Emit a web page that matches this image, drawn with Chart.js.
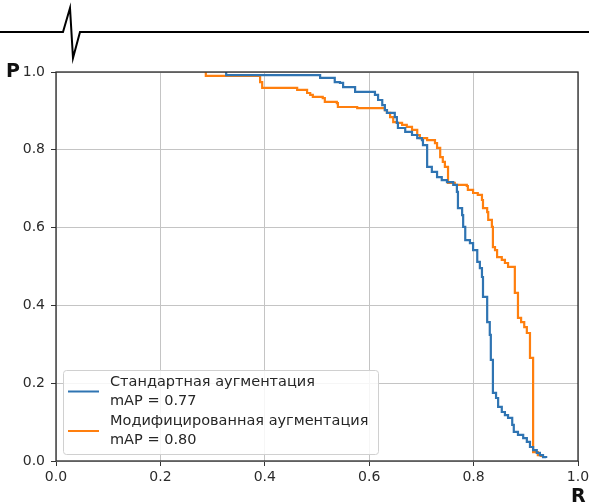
<!DOCTYPE html>
<html>
<head>
<meta charset="utf-8">
<script src="https://cdn.jsdelivr.net/npm/chart.js@4/dist/chart.umd.min.js"></script>
<style>
  html, body { margin: 0; padding: 0; background: #ffffff; }
  #wrap { position: relative; width: 589px; height: 504px; }
  canvas { display: block; }
</style>
</head>
<body>
<div id="wrap"><canvas id="c" width="589" height="504"></canvas></div>
<script>
// ---- data ----
const seriesNames = ["Стандартная аугментация", "Модифицированная аугментация"];
const mapValues = ["0.77", "0.80"];
const axisTicks = [0.0, 0.2, 0.4, 0.6, 0.8, 1.0];

const blueRecall = [0.326,0.326,0.502,0.506,0.531,0.534,0.544,0.550,0.567,0.573,0.605,0.611,0.617,0.625,0.630,0.634,0.644,0.649,0.653,0.653,0.655,0.669,0.682,0.692,0.701,0.703,0.711,0.711,0.720,0.730,0.739,0.749,0.761,0.768,0.770,0.778,0.780,0.784,0.793,0.799,0.807,0.812,0.816,0.818,0.826,0.826,0.831,0.833,0.837,0.837,0.843,0.847,0.854,0.860,0.866,0.874,0.877,0.885,0.895,0.902,0.908,0.914,0.921,0.927,0.933,0.939];
const bluePrecision = [1.0,0.992,0.992,0.985,0.985,0.974,0.972,0.961,0.961,0.949,0.949,0.941,0.928,0.915,0.902,0.895,0.895,0.884,0.884,0.869,0.856,0.846,0.838,0.830,0.825,0.812,0.799,0.756,0.743,0.730,0.722,0.717,0.710,0.692,0.650,0.632,0.602,0.568,0.560,0.542,0.512,0.496,0.473,0.422,0.406,0.357,0.324,0.260,0.254,0.175,0.162,0.139,0.126,0.118,0.111,0.093,0.075,0.067,0.059,0.049,0.036,0.028,0.021,0.015,0.010,0.008];

const orangeRecall = [0.287,0.287,0.385,0.391,0.395,0.454,0.462,0.473,0.481,0.487,0.492,0.511,0.515,0.538,0.540,0.577,0.621,0.630,0.634,0.640,0.646,0.653,0.663,0.672,0.682,0.692,0.697,0.711,0.726,0.730,0.736,0.741,0.745,0.751,0.751,0.764,0.787,0.789,0.799,0.808,0.816,0.818,0.826,0.828,0.835,0.837,0.841,0.845,0.854,0.860,0.866,0.879,0.879,0.885,0.885,0.891,0.897,0.902,0.908,0.908,0.914,0.914,0.923,0.929];
const orangePrecision = [1.0,0.990,0.990,0.974,0.959,0.959,0.954,0.954,0.946,0.941,0.936,0.933,0.923,0.920,0.910,0.907,0.907,0.902,0.895,0.884,0.871,0.869,0.864,0.859,0.851,0.838,0.830,0.825,0.817,0.805,0.781,0.769,0.756,0.722,0.715,0.710,0.707,0.697,0.689,0.684,0.671,0.650,0.640,0.620,0.602,0.550,0.542,0.524,0.517,0.509,0.499,0.491,0.432,0.427,0.368,0.357,0.344,0.329,0.321,0.265,0.265,0.023,0.015,0.010];

const blueColor = "#2f74b2";
const orangeColor = "#ff7f0e";

function toPoints(xs, ys) { return xs.map((x, i) => ({ x: x, y: ys[i] })); }

const FONT = "'DejaVu Sans', sans-serif";

// decoration, frame and in-plot legend
const extras = {
  id: "extras",
  afterDraw(chart) {
    const ctx = chart.ctx;
    const a = chart.chartArea;
    ctx.save();
    // top break-line decoration
    ctx.strokeStyle = "#000";
    ctx.lineWidth = 2;
    ctx.lineJoin = "miter";
    ctx.beginPath();
    ctx.moveTo(0, 32); ctx.lineTo(63, 32); ctx.lineTo(70, 8); ctx.lineTo(73, 58); ctx.lineTo(80, 32); ctx.lineTo(589, 32);
    ctx.stroke();
    // frame (four spines)
    ctx.strokeStyle = "#2a2a2a";
    ctx.lineWidth = 1.3;
    ctx.strokeRect(a.left, a.top, a.right - a.left, a.bottom - a.top);
    // axis letters
    ctx.fillStyle = "#111";
    ctx.font = "bold 19px " + FONT;
    ctx.textBaseline = "alphabetic";
    ctx.textAlign = "left";
    ctx.fillText("P", 6, 77);
    ctx.fillText("R", 571, 502);
    // legend
    const lx = a.left + 7, ly = 370, lw = 315, lh = 84;
    ctx.fillStyle = "rgba(255,255,255,0.85)";
    ctx.strokeStyle = "#d0d0d0";
    ctx.lineWidth = 1;
    ctx.beginPath();
    if (ctx.roundRect) ctx.roundRect(lx + 0.5, ly + 0.5, lw, lh, 3); else ctx.rect(lx + 0.5, ly + 0.5, lw, lh);
    ctx.fill(); ctx.stroke();
    const colors = [blueColor, orangeColor];
    ctx.font = "14.5px " + FONT;
    ctx.textBaseline = "middle";
    for (let i = 0; i < seriesNames.length; i++) {
      const cy = 391.5 + i * 39.5;
      ctx.strokeStyle = colors[i];
      ctx.lineWidth = 2;
      ctx.beginPath(); ctx.moveTo(lx + 5, cy); ctx.lineTo(lx + 36, cy); ctx.stroke();
      ctx.fillStyle = "#262626";
      ctx.fillText(seriesNames[i], lx + 47, cy - 9.5);
      ctx.fillText("mAP = " + mapValues[i], lx + 47, cy + 9.5);
    }
    ctx.restore();
  }
};

new Chart(document.getElementById("c"), {
  type: "scatter",
  data: {
    datasets: [
      { label: seriesNames[0], data: toPoints(blueRecall, bluePrecision), borderColor: blueColor, backgroundColor: blueColor,
        showLine: true, stepped: true, borderWidth: 2.2, pointRadius: 0, fill: false },
      { label: seriesNames[1], data: toPoints(orangeRecall, orangePrecision), borderColor: orangeColor, backgroundColor: orangeColor,
        showLine: true, stepped: true, borderWidth: 2.2, pointRadius: 0, fill: false }
    ]
  },
  options: {
    responsive: false,
    animation: false,
    devicePixelRatio: 1,
    layout: { padding: { left: 0, right: 11, top: 72, bottom: 0 } },
    plugins: { legend: { display: false }, tooltip: { enabled: false } },
    scales: {
      x: {
        type: "linear", min: 0, max: 1,
        afterBuildTicks: s => { s.ticks = axisTicks.map(v => ({ value: v })); },
        afterFit: s => { s.height = 43; s.paddingLeft = 0; s.paddingRight = 0; },
        ticks: { callback: v => Number(v).toFixed(1), font: { family: FONT, size: 14 }, color: "#2b2b2b", padding: 3, maxRotation: 0 },
        grid: { color: "#c4c4c4", lineWidth: 1, tickColor: "#333", tickLength: 5 },
        border: { display: false }
      },
      y: {
        type: "linear", min: 0, max: 1,
        afterBuildTicks: s => { s.ticks = axisTicks.map(v => ({ value: v })); },
        afterFit: s => { s.width = 56; s.paddingTop = 0; s.paddingBottom = 0; },
        ticks: { callback: v => Number(v).toFixed(1), font: { family: FONT, size: 14 }, color: "#2b2b2b", padding: 6 },
        grid: { color: "#c4c4c4", lineWidth: 1, tickColor: "#333", tickLength: 5 },
        border: { display: false }
      }
    }
  },
  plugins: [extras]
});
</script>
</body>
</html>
